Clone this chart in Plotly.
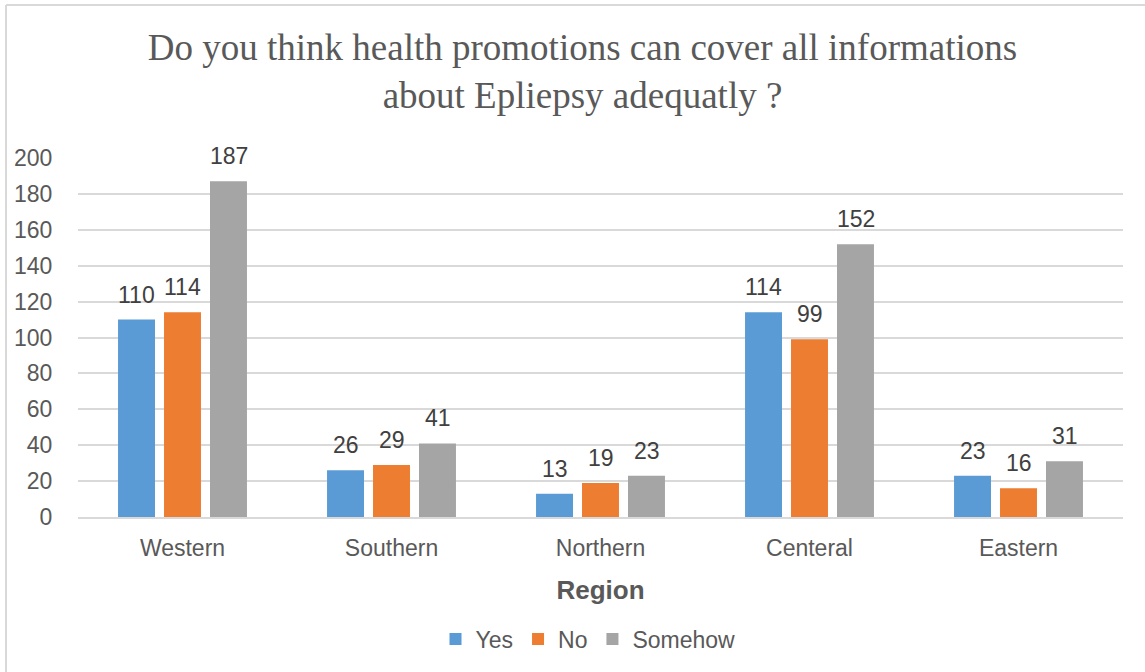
import plotly.graph_objects as go

regions = ["Western", "Southern", "Northern", "Centeral", "Eastern"]
yes_vals = [110, 26, 13, 114, 23]
no_vals = [114, 29, 19, 99, 16]
somehow_vals = [187, 41, 23, 152, 31]
series_names = ["Yes", "No", "Somehow"]
series_colors = ["#5B9BD5", "#ED7D31", "#A5A5A5"]
y_ticks = [0, 20, 40, 60, 80, 100, 120, 140, 160, 180, 200]

W, H = 1145, 672
L, R, T, B = 78, 22, 158, 155
TXT = "#595959"
FONT = "Liberation Sans, Arial, sans-serif"

fig = go.Figure()
all_vals = [yes_vals, no_vals, somehow_vals]
for name, vals, col in zip(series_names, all_vals, series_colors):
    fig.add_trace(go.Bar(
        x=regions, y=vals, name=name, marker_color=col,
        marker_line_width=0,
    ))

# data labels as annotations above each bar
slot = 46
for i, vals in enumerate(all_vals):
    for cat, v in zip(regions, vals):
        fig.add_annotation(
            x=cat, y=v, xref="x", yref="y", text=str(v), showarrow=False,
            xshift=(i - 1) * slot, yanchor="bottom", yshift=10,
            font=dict(family=FONT, size=23, color="#404040"),
        )

pw = W - L - R
ph = H - T - B
bx = (6 - L) / pw
by = (H - B - 5) / ph
fig.add_shape(type="line", xref="paper", yref="paper", x0=bx, x1=1.2, y0=by, y1=by,
              line=dict(color="#d9d9d9", width=2))
fig.add_shape(type="line", xref="paper", yref="paper", x0=bx, x1=bx, y0=by, y1=-1,
              line=dict(color="#d9d9d9", width=2))

fig.update_layout(
    width=W, height=H,
    margin=dict(l=L, r=R, t=T, b=B),
    paper_bgcolor="white", plot_bgcolor="white",
    barmode="group", bargap=0.34, bargroupgap=0.196,
    title=dict(
        text="Do you think health promotions can cover all informations<br>about Epliepsy adequatly ?",
        x=(582.5 - L) / pw, xanchor="center", xref="paper",
        y=1 - 60 / H, yanchor="middle", yref="container",
        font=dict(family="Liberation Serif, Times New Roman, serif", size=37, color=TXT),
    ),
    xaxis=dict(
        showgrid=False, showline=True, linecolor="#d9d9d9", linewidth=2,
        ticks="outside", ticklen=9, tickcolor="rgba(0,0,0,0)",
        tickfont=dict(family=FONT, size=23, color=TXT),
        title=dict(text="<b>Region</b>", font=dict(family=FONT, size=26, color=TXT), standoff=21),
    ),
    yaxis=dict(
        range=[0, 200], tickvals=y_ticks, showgrid=True, gridcolor="#d9d9d9", gridwidth=2,
        zeroline=False, showline=False,
        ticks="outside", ticklen=20, tickcolor="rgba(0,0,0,0)",
        tickfont=dict(family=FONT, size=23, color=TXT),
    ),
    legend=dict(
        orientation="h", x=(588 - L) / pw, xanchor="center", y=-0.34, yanchor="middle",
        font=dict(family=FONT, size=23, color=TXT),
        itemwidth=30, traceorder="normal",
    ),
)

fig.write_html("out.html")
